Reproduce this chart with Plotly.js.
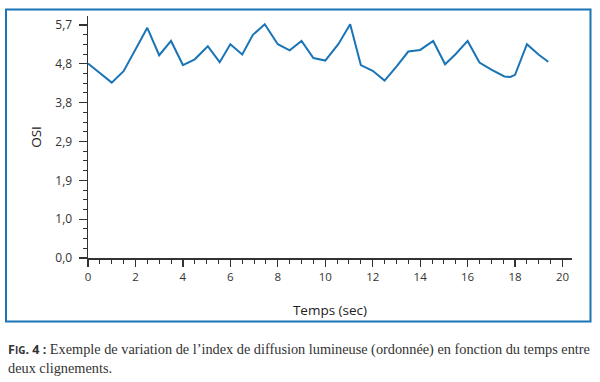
<!DOCTYPE html>
<html>
<head>
<meta charset="utf-8">
<script src="https://cdn.plot.ly/plotly-3.0.1.min.js"></script>
<style>
html,body{margin:0;padding:0;background:#fff;}
#chart{width:600px;height:382px;}
</style>
</head>
<body>
<div id="chart"></div>
<script>
// Data
var timeSec = [0, 1.0, 1.5, 2.5, 3.0, 3.5, 4.0, 4.5, 5.05, 5.55, 6.0, 6.5, 6.95, 7.2, 7.45, 8.0, 8.5, 9.0, 9.5, 10.0, 10.55, 11.05, 11.5, 12.0, 12.5, 13.0, 13.5, 14.0, 14.55, 15.05, 15.5, 16.0, 16.5, 17.0, 17.55, 17.8, 18.0, 18.5, 19.0, 19.4];
var osiValues = [4.76, 4.29, 4.57, 5.63, 4.96, 5.31, 4.72, 4.86, 5.18, 4.79, 5.23, 4.98, 5.46, 5.6, 5.72, 5.23, 5.08, 5.31, 4.89, 4.83, 5.23, 5.72, 4.72, 4.58, 4.34, 4.68, 5.05, 5.09, 5.31, 4.74, 4.99, 5.31, 4.78, 4.61, 4.44, 4.43, 4.48, 5.23, 4.97, 4.8];
var yTickVals = [0, 0.95, 1.9, 2.85, 3.8, 4.75, 5.7];
var yTickText = ["0,0", "1,0", "1,9", "2,9", "3,8", "4,8", "5,7"];
var xTickVals = [0, 2, 4, 6, 8, 10, 12, 14, 16, 18, 20];

var blue = "#1a74b6";
var axisCol = "#333333";

var trace = {
  x: timeSec, y: osiValues, type: "scatter", mode: "lines",
  line: {color: blue, width: 2}, hoverinfo: "skip", showlegend: false
};

var layout = {
  width: 600, height: 382,
  margin: {l: 88, r: 28, t: 16, b: 124},
  paper_bgcolor: "#ffffff", plot_bgcolor: "#ffffff",
  font: {family: "Open Sans, sans-serif", size: 11, color: axisCol},
  xaxis: {
    range: [0, 20.4], showgrid: false, zeroline: false,
    showline: true, linecolor: axisCol, linewidth: 1.5,
    tickmode: "array", tickvals: xTickVals,
    ticks: "outside", ticklen: 7, tickwidth: 1.3, tickcolor: axisCol,
    ticklabelstandoff: 1,
    minor: {dtick: 0.5, tick0: 0, ticks: "outside", ticklen: 4, tickwidth: 1, tickcolor: axisCol, showgrid: false},
    tickfont: {size: 11.5, color: axisCol},
    title: {text: "Temps (sec)", font: {size: 13.5, color: "#222"}, standoff: 22}
  },
  yaxis: {
    range: [0, 5.92], showgrid: false, zeroline: false,
    showline: true, linecolor: axisCol, linewidth: 1.5,
    tickmode: "array", tickvals: yTickVals, ticktext: yTickText,
    ticks: "outside", ticklen: 8, tickwidth: 1.3, tickcolor: axisCol,
    ticklabelstandoff: 4,
    minor: {dtick: 0.2375, tick0: 0, ticks: "outside", ticklen: 4, tickwidth: 1, tickcolor: axisCol, showgrid: false},
    tickfont: {size: 12, color: axisCol},
    title: {text: "OSI", font: {size: 13.5, color: "#222"}, standoff: 10}
  },
  shapes: [{
    type: "rect", xref: "paper", yref: "paper",
    x0: (6 - 88) / 484, x1: (590.5 - 88) / 484,
    y0: (258 - 321.5) / 242, y1: (258 - 9.5) / 242,
    line: {color: blue, width: 2}, fillcolor: "rgba(0,0,0,0)"
  }],
  annotations: [{
    xref: "paper", yref: "paper",
    x: (6 - 88) / 484, y: (258 - 339) / 242,
    xanchor: "left", yanchor: "top", align: "left", showarrow: false,
    font: {family: "Liberation Serif, serif", size: 14.3, color: "#333"},
    text: "<b><span style=\"font-family:'Open Sans',sans-serif;font-size:12.5px\">F<span style=\"font-size:10px\">IG</span>. 4 :</span></b> Exemple de variation de l’index de diffusion lumineuse (ordonnée) en fonction du temps entre<br>deux clignements."
  }]
};

Plotly.newPlot("chart", [trace], layout, {staticPlot: true, displayModeBar: false});
</script>
</body>
</html>
